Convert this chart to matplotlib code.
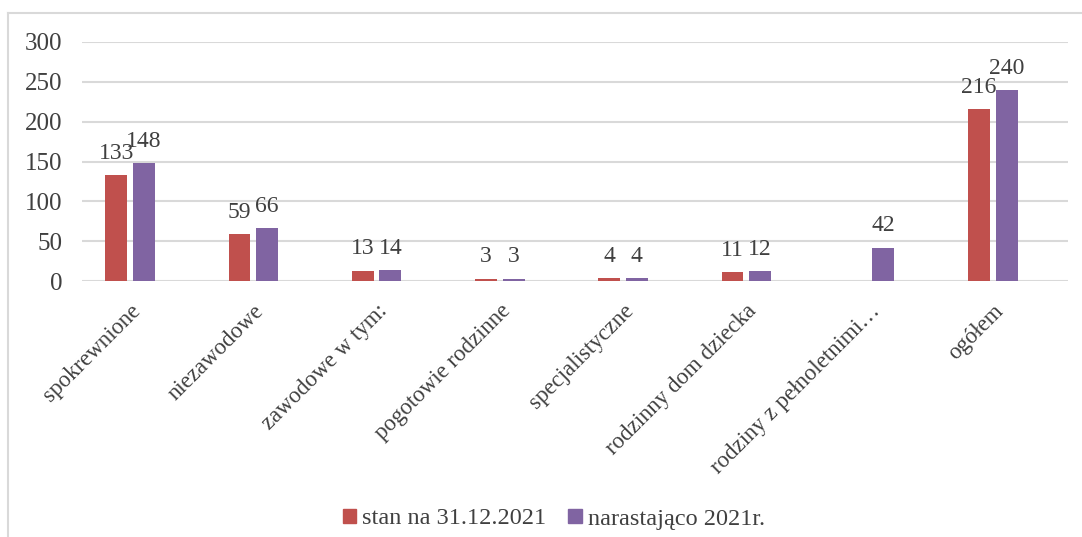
import numpy as np
import matplotlib.pyplot as plt
from matplotlib.lines import Line2D

categories = ["spokrewnione", "niezawodowe", "zawodowe w tym:", "pogotowie rodzinne",
              "specjalistyczne", "rodzinny dom dziecka", "rodziny z pełnoletnimi…", "ogółem"]
stan = [133, 59, 13, 3, 4, 11, None, 216]          # stan na 31.12.2021
narast = [148, 66, 14, 3, 4, 12, 42, 240]          # narastająco 2021r.
series_names = ["stan na 31.12.2021", "narastająco 2021r."]
yticks = [0, 50, 100, 150, 200, 250, 300]

red = "#C0504D"
purple = "#8064A2"
txt = "#404040"
grid = "#D9D9D9"

plt.rcParams['font.family'] = ['Liberation Serif', 'DejaVu Serif']

fig = plt.figure(figsize=(10.82, 5.37), dpi=100)
ax = fig.add_axes([82/1082, 1-281/537, (1068-82)/1082, (281-42)/537])

x = np.arange(len(categories))
w = 0.178
off = 0.112

for i in range(len(categories)):
    if stan[i] is not None:
        ax.bar(x[i]-off, stan[i], w, color=red, zorder=3)
        ax.text(x[i]-off, stan[i]+14, str(stan[i]), ha='center', va='bottom', fontsize=17, color=txt)
    ax.bar(x[i]+off, narast[i], w, color=purple, zorder=3)
    ax.text(x[i]+off, narast[i]+14, str(narast[i]), ha='center', va='bottom', fontsize=17, color=txt)

ax.set_xlim(-0.39, 7.61)
ax.set_ylim(0, 300)
ax.set_yticks(yticks)
ax.yaxis.grid(True, color=grid, linewidth=1.5, zorder=0)
ax.set_axisbelow(True)
for s in ax.spines.values():
    s.set_visible(False)
ax.tick_params(axis='y', length=0, pad=14, labelsize=18, labelcolor=txt)
ax.tick_params(axis='x', length=0, pad=14)
ax.set_xticks(x)
ax.set_xticklabels(categories, rotation=45, ha='right', rotation_mode='anchor',
                   fontsize=16.5, color=txt)

handles = [plt.Rectangle((0, 0), 1, 1, color=red), plt.Rectangle((0, 0), 1, 1, color=purple)]
fig.legend(handles, series_names, loc='center', bbox_to_anchor=(554/1082, 1-519/537),
           ncol=2, frameon=False, fontsize=17.5, handlelength=0.55, handleheight=0.55,
           handletextpad=0.25, columnspacing=0.9, labelcolor=txt)

# chart frame (left and top edges visible)
fig.add_artist(Line2D([8/1082, 8/1082], [0, 1-13/537], color=grid, linewidth=1.5))
fig.add_artist(Line2D([8/1082, 1], [1-13/537, 1-13/537], color=grid, linewidth=1.5))

fig.savefig("out.png", dpi=100)
